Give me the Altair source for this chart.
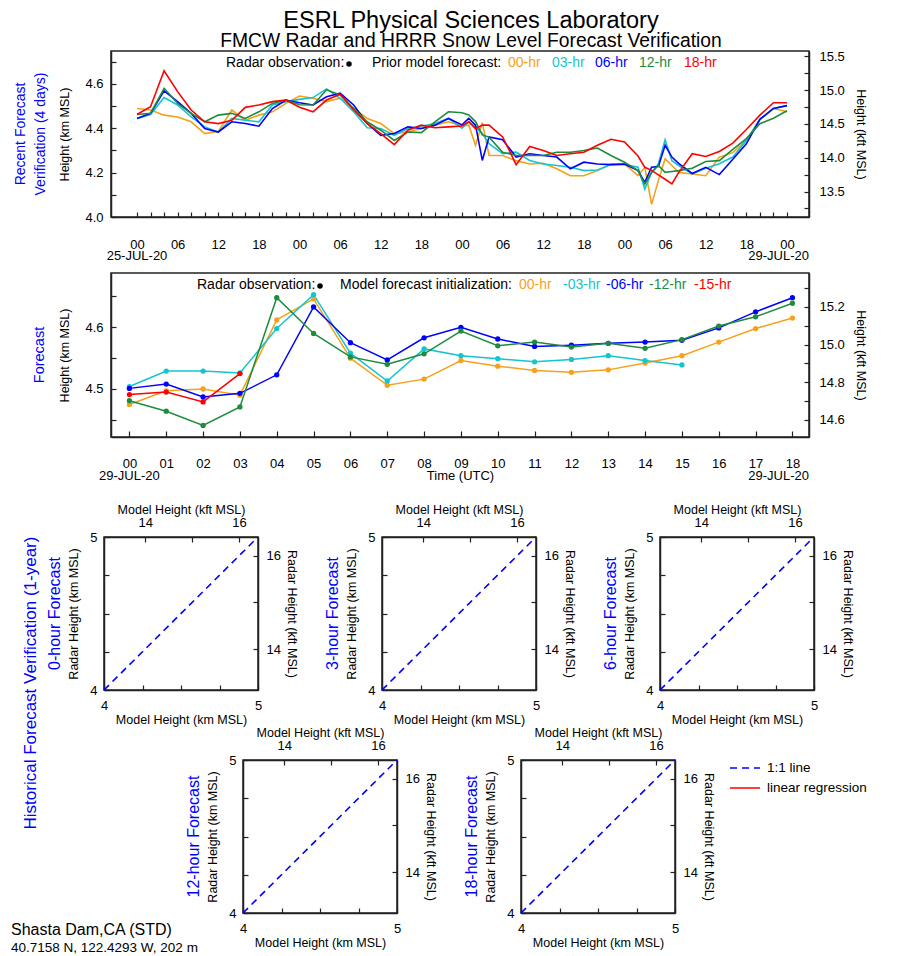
import json
import altair as alt
import pandas as pd

FONT = "Liberation Sans"
KFT_PER_KM = 3.28084
TITLE_BLUE = "#0000ff"
INK = "#222222"

# ---------------- Panel 1: recent forecast verification (4 days) ----------------
TOP_SERIES = ["00-hr", "03-hr", "06-hr", "12-hr", "18-hr"]
SERIES_COLORS = ["#f5a11c", "#15c4cf", "#0000ff", "#1e8b3e", "#ff0000"]
TOP_HOURS = [0, 2, 4, 6, 8, 10, 12, 14, 16, 18, 20, 22, 24, 26, 28, 30, 32, 34, 36, 38, 40, 42, 44, 46, 48,
             49, 50, 51, 52, 54, 56, 58, 60, 62, 64, 66, 68, 70, 72, 74,
             75, 76, 77, 78, 79, 80, 82, 84, 86, 88, 90, 92, 94, 96]
TOP_00 = [4.489, 4.482, 4.459, 4.451, 4.429, 4.376, 4.386, 4.482, 4.436, 4.459, 4.474, 4.512, 4.545, 4.535, 4.520,
          4.535, 4.489, 4.444, 4.421, 4.376, 4.383, 4.399, 4.414, 4.429, 4.410,
          4.414, 4.323, 4.425, 4.277, 4.277, 4.254, 4.239, 4.242, 4.217, 4.186, 4.186, 4.209, 4.239, 4.239, 4.186,
          4.224, 4.057, 4.164, 4.262, 4.232, 4.201, 4.194, 4.186, 4.270, 4.290, 4.345, 4.440, 4.489, 4.474]
TOP_03 = [4.444, 4.462, 4.538, 4.505, 4.451, 4.406, 4.383, 4.444, 4.436, 4.429, 4.505, 4.520, 4.530, 4.538, 4.577,
          4.535, 4.474, 4.402, 4.399, 4.368, 4.399, 4.409, 4.421, 4.444, 4.400,
          4.429, 4.406, 4.376, 4.330, 4.285, 4.292, 4.255, 4.239, 4.232, 4.224, 4.209, 4.212, 4.236, 4.236, 4.224,
          4.126, 4.201, 4.239, 4.348, 4.254, 4.232, 4.194, 4.220, 4.240, 4.270, 4.345, 4.440, 4.489, 4.502]
TOP_06 = [4.444, 4.467, 4.568, 4.520, 4.467, 4.399, 4.383, 4.429, 4.421, 4.409, 4.489, 4.527, 4.515, 4.505, 4.542,
          4.558, 4.505, 4.421, 4.368, 4.376, 4.406, 4.399, 4.414, 4.444, 4.415,
          4.444, 4.414, 4.255, 4.361, 4.348, 4.270, 4.285, 4.277, 4.270, 4.217, 4.247, 4.239, 4.236, 4.239, 4.209,
          4.156, 4.224, 4.227, 4.323, 4.270, 4.242, 4.196, 4.224, 4.191, 4.260, 4.330, 4.440, 4.489, 4.502]
TOP_12 = [4.462, 4.467, 4.580, 4.512, 4.467, 4.429, 4.459, 4.467, 4.444, 4.474, 4.512, 4.527, 4.506, 4.505, 4.573,
          4.550, 4.489, 4.429, 4.391, 4.345, 4.383, 4.380, 4.429, 4.474, 4.470,
          4.460, 4.430, 4.370, 4.360, 4.292, 4.277, 4.277, 4.277, 4.292, 4.292, 4.300, 4.311, 4.277, 4.247, 4.209,
          4.148, 4.201, 4.232, 4.201, 4.205, 4.209, 4.220, 4.250, 4.254, 4.305, 4.353, 4.420, 4.445, 4.479]
TOP_18 = [4.462, 4.497, 4.659, 4.565, 4.482, 4.429, 4.421, 4.436, 4.494, 4.505, 4.520, 4.527, 4.495, 4.474, 4.527,
          4.553, 4.482, 4.421, 4.376, 4.326, 4.391, 4.414, 4.402, 4.406, 4.410,
          4.429, 4.398, 4.414, 4.414, 4.361, 4.236, 4.318, 4.300, 4.277, 4.285, 4.292, 4.323, 4.350, 4.338, 4.275,
          4.224, 4.210, 4.190, 4.170, 4.149, 4.200, 4.285, 4.273, 4.295, 4.333, 4.394, 4.459, 4.515, 4.515]
TOP_TICK_HOURS = list(range(0, 97, 2))
TOP_HOUR_LABELS = ["00", "06", "12", "18"]
TOP_DATES = ["25-JUL-20", "29-JUL-20"]
TOP_KM_TICKS = [4.0, 4.1, 4.2, 4.3, 4.4, 4.5, 4.6, 4.7]
TOP_KM_LABELS = [4.0, 4.2, 4.4, 4.6]
TOP_KFT_TICKS = [13.25, 13.5, 13.75, 14.0, 14.25, 14.5, 14.75, 15.0, 15.25, 15.5]
TOP_KFT_LABELS = [13.5, 14.0, 14.5, 15.0, 15.5]
TOP_XDOM = [-3.84, 99.25]
TOP_YDOM = [4.0, 4.748]
TOP_TITLE = ["Recent Forecast", "Verification (4 days)"]
TOP_LEGEND_HEAD = ["Radar observation:", "Prior model forecast:"]

# ---------------- Panel 2: forecast (model initialisations) ----------------
MID_SERIES = ["00-hr", "-03-hr", "-06-hr", "-12-hr", "-15-hr"]
MID_00 = [4.475, 4.497, 4.500, 4.490, 4.612, 4.646, 4.550, 4.506, 4.516, 4.546, 4.537, 4.530, 4.527, 4.531,
          4.542, 4.554, 4.576, 4.598, 4.615]
MID_03 = [4.504, 4.529, 4.529, 4.526, 4.598, 4.653, 4.558, 4.513, 4.565, 4.554, 4.549, 4.544, 4.548, 4.554,
          4.546, 4.539]
MID_06 = [4.501, 4.508, 4.487, 4.493, 4.523, 4.633, 4.575, 4.547, 4.583, 4.600, 4.581, 4.569, 4.571, 4.574,
          4.576, 4.579, 4.599, 4.625, 4.648]
MID_12 = [4.481, 4.464, 4.441, 4.471, 4.648, 4.590, 4.552, 4.540, 4.557, 4.594, 4.570, 4.576, 4.568, 4.574,
          4.566, 4.580, 4.602, 4.617, 4.639]
MID_15 = [4.491, 4.495, 4.479, 4.525]
MID_HOUR_LABELS = ["00", "01", "02", "03", "04", "05", "06", "07", "08", "09", "10", "11", "12", "13", "14",
                   "15", "16", "17", "18"]
MID_DATE = "29-JUL-20"
MID_KM_TICKS = [4.45, 4.5, 4.55, 4.6, 4.65]
MID_KM_LABELS = [4.5, 4.6]
MID_KFT_TICKS = [14.6, 14.7, 14.8, 14.9, 15.0, 15.1, 15.2, 15.3]
MID_KFT_LABELS = [14.6, 14.8, 15.0, 15.2]
MID_XDOM = [-0.5, 18.45]
MID_YDOM = [4.4222, 4.688]
MID_TITLE = "Forecast"
MID_LEGEND_HEAD = ["Radar observation:", "Model forecast initialization:"]

# ---------------- Panels 3-7: historical verification (1 year) ----------------
SCATTER_TITLES = ["0-hour Forecast", "3-hour Forecast", "6-hour Forecast", "12-hour Forecast", "18-hour Forecast"]
DIAG_KM = [4.0, 5.0]
SC_DOM = [4.0, 5.0]
SC_KM_TICKS = [4.0, 4.25, 4.5, 4.75, 5.0]
SC_KM_LABELS = [4.0, 5.0]
SC_KFT_TICKS = [14, 15, 16]
SC_KFT_LABELS = [14, 16]
LEGEND_KINDS = ["1:1 line", "linear regression"]
HIST_TITLE = "Historical Forecast Verification (1-year)"
SITE = "Shasta Dam,CA (STD)"
SITE_COORDS = "40.7158 N, 122.4293 W, 202 m"
MAIN_TITLE = "ESRL Physical Sciences Laboratory"
SUB_TITLE = "FMCW Radar and HRRR Snow Level Forecast Verification"

# ---------------- layout constants ----------------
W_WIDE, H_TOP, H_MID = 698, 166, 164
SC_W, SC_H = 154, 153
TOP_LEG_X = [115, 238, 261, 397, 441, 484, 528, 573]
MID_LEG_X = [86, 209, 229, 408, 452, 495, 538, 583]
LEG_FS = 14


def tick_in(n=5):
    return {"expr": str(-n)}


def label_expr(labels, fmt):
    return f"indexof({json.dumps(labels)}, datum.value) >= 0 ? format(datum.value, '{fmt}') : ''"


def long_frame(series, arrays, hours_list=None):
    rows = []
    for name, vals in zip(series, arrays):
        hrs = hours_list if hours_list is not None else list(range(len(vals)))
        for h, v in zip(hrs, vals):
            rows.append({"hour": h, "km": v, "series": name})
    return pd.DataFrame(rows)


def text_at(text, color, x, y, size=LEG_FS, align="left", angle=None):
    kw = dict(align=align, baseline="middle", fontSize=size, color=color, font=FONT)
    if angle is not None:
        kw["angle"] = angle
    return alt.Chart(pd.DataFrame({"t": [text]})).mark_text(**kw).encode(
        text="t:N", x=alt.value(x), y=alt.value(y))


def dot_at(x, y):
    return alt.Chart(pd.DataFrame({"a": [0]})).mark_circle(size=30, color="black", opacity=1).encode(
        x=alt.value(x), y=alt.value(y))


def legend_layers(heads, series, xs, y):
    out = [text_at(heads[0], "black", xs[0], y), dot_at(xs[1], y + 1), text_at(heads[1], "black", xs[2], y)]
    for name, col, x in zip(series, SERIES_COLORS, xs[3:]):
        out.append(text_at(name, col, x, y))
    return out


def spacer(w, h, layers=()):
    base = alt.Chart(pd.DataFrame({"a": [0]})).mark_point(opacity=0, size=0).encode(
        x=alt.value(0), y=alt.value(0))
    ch = alt.layer(base, *layers) if layers else base
    return ch.properties(width=w, height=h, view=alt.ViewBackground(stroke="transparent"))


def indep(ch):
    return ch.resolve_scale(color="independent", strokeDash="independent")


def kft_axis_layer(ydom, ticks, labels, fmt, title, pad):
    kdom = [round(ydom[0] * KFT_PER_KM, 4), round(ydom[1] * KFT_PER_KM, 4)]
    return alt.Chart(pd.DataFrame({"kft": kdom})).mark_point(opacity=0, size=0).encode(
        y=alt.Y("kft:Q", scale=alt.Scale(domain=kdom, nice=False, zero=False),
                axis=alt.Axis(orient="right", values=ticks, labelExpr=label_expr(labels, fmt), title=title,
                              tickSize=tick_in(), labelPadding=15, titlePadding=pad, labelFlush=False,
                              labelOverlap=False)))


def date_texts(x_enc, xdom, h, label_left, label_right):
    left = alt.Chart(pd.DataFrame({"hour": [0], "t": [label_left]})).mark_text(
        align="center", baseline="middle", fontSize=13, font=FONT).encode(
        x=x_enc, y=alt.value(h + 39), text="t:N")
    right = alt.Chart(pd.DataFrame({"hour": [xdom[1]], "t": [label_right]})).mark_text(
        align="right", baseline="middle", fontSize=13, font=FONT).encode(
        x=x_enc, y=alt.value(h + 39), text="t:N")
    return [left, right]


# ---------- Panel 1 ----------
top_df = long_frame(TOP_SERIES, [TOP_00, TOP_03, TOP_06, TOP_12, TOP_18], TOP_HOURS)
top_x_expr = f"datum.value % 6 != 0 ? '' : {json.dumps(TOP_HOUR_LABELS)}[(datum.value % 24) / 6]"
top_x = alt.X("hour:Q", scale=alt.Scale(domain=TOP_XDOM, nice=False, zero=False),
              axis=alt.Axis(values=TOP_TICK_HOURS, labelExpr=top_x_expr, title=None, tickSize=tick_in(),
                            labelPadding=26, labelOverlap=False, labelFlush=False))
top_lines = alt.Chart(top_df).mark_line(strokeWidth=1.6, clip=True).encode(
    x=top_x,
    y=alt.Y("km:Q", scale=alt.Scale(domain=TOP_YDOM, nice=False, zero=False),
            axis=alt.Axis(values=TOP_KM_TICKS, labelExpr=label_expr(TOP_KM_LABELS, ".1f"),
                          title="Height (km MSL)", tickSize=tick_in(), labelPadding=13, titlePadding=13,
                          labelFlush=False, labelOverlap=False)),
    color=alt.Color("series:N", scale=alt.Scale(domain=TOP_SERIES, range=SERIES_COLORS), legend=None),
)
top_panel = alt.layer(
    top_lines, kft_axis_layer(TOP_YDOM, TOP_KFT_TICKS, TOP_KFT_LABELS, ".1f", "Height (kft MSL)", 9),
    *date_texts(top_x, TOP_XDOM, H_TOP, TOP_DATES[0], TOP_DATES[1]),
    *legend_layers(TOP_LEGEND_HEAD, TOP_SERIES, TOP_LEG_X, 12)
).resolve_scale(y="independent").properties(
    width=W_WIDE, height=H_TOP,
    title=alt.TitleParams(TOP_TITLE, orient="left", anchor="middle", color=TITLE_BLUE, fontSize=14,
                          font=FONT, fontWeight="normal", offset=11, lineHeight=20))

# ---------- Panel 2 ----------
mid_df = long_frame(MID_SERIES, [MID_00, MID_03, MID_06, MID_12, MID_15])
mid_x_expr = f"{json.dumps(MID_HOUR_LABELS)}[datum.value]"
mid_x = alt.X("hour:Q", scale=alt.Scale(domain=MID_XDOM, nice=False, zero=False),
              axis=alt.Axis(values=list(range(len(MID_HOUR_LABELS))), labelExpr=mid_x_expr, title="Time (UTC)",
                            titleY=38, titleBaseline="middle", titleFontSize=13, tickSize=tick_in(6),
                            labelPadding=26, labelOverlap=False, labelFlush=False))
mid_lines = alt.Chart(mid_df).mark_line(strokeWidth=1.5, point=alt.OverlayMarkDef(filled=True, size=28)).encode(
    x=mid_x,
    y=alt.Y("km:Q", scale=alt.Scale(domain=MID_YDOM, nice=False, zero=False),
            axis=alt.Axis(values=MID_KM_TICKS, labelExpr=label_expr(MID_KM_LABELS, ".1f"),
                          title="Height (km MSL)", tickSize=tick_in(), labelPadding=13, titlePadding=13,
                          labelFlush=False, labelOverlap=False)),
    color=alt.Color("series:N", scale=alt.Scale(domain=MID_SERIES, range=SERIES_COLORS), legend=None),
)
mid_panel = alt.layer(
    mid_lines, kft_axis_layer(MID_YDOM, MID_KFT_TICKS, MID_KFT_LABELS, ".1f", "Height (kft MSL)", 9),
    *date_texts(mid_x, MID_XDOM, H_MID, MID_DATE, MID_DATE),
    *legend_layers(MID_LEGEND_HEAD, MID_SERIES, MID_LEG_X, 12)
).resolve_scale(y="independent").properties(
    width=W_WIDE, height=H_MID,
    title=alt.TitleParams(MID_TITLE, orient="left", anchor="middle", color=TITLE_BLUE, fontSize=14.5,
                          font=FONT, fontWeight="normal", offset=11))


# ---------- scatter panels ----------
def scatter_panel(title, with_legend=False):
    diag = pd.DataFrame({"model": DIAG_KM, "radar": DIAG_KM, "kind": [LEGEND_KINDS[0]] * len(DIAG_KM)})
    x = alt.X("model:Q", scale=alt.Scale(domain=SC_DOM, nice=False, zero=False),
              axis=alt.Axis(values=SC_KM_TICKS, labelExpr=label_expr(SC_KM_LABELS, "d"),
                            title="Model Height (km MSL)", tickSize=tick_in(), labelPadding=14, titlePadding=1,
                            labelFlush=False, labelOverlap=False))
    y = alt.Y("radar:Q", scale=alt.Scale(domain=SC_DOM, nice=False, zero=False),
              axis=alt.Axis(values=SC_KM_TICKS, labelExpr=label_expr(SC_KM_LABELS, "d"),
                            title="Radar Height (km MSL)", tickSize=tick_in(), labelPadding=12, titlePadding=9,
                            labelFlush=False, labelOverlap=False))
    if with_legend:
        leg = dict(title=None, orient="none", legendX=213, legendY=-3, labelFontSize=13.5, labelFont=FONT,
                   symbolType="M-1.5,0L1.5,0", symbolSize=400, symbolStrokeWidth=1.6, rowPadding=2,
                   labelOffset=11, padding=0)
        line = alt.Chart(diag).mark_line(strokeWidth=1.6).encode(
            x=x, y=y,
            color=alt.Color("kind:N", scale=alt.Scale(domain=LEGEND_KINDS, range=["#0000ff", "#ff0000"]),
                            legend=alt.Legend(**leg)),
            strokeDash=alt.StrokeDash("kind:N", scale=alt.Scale(domain=LEGEND_KINDS, range=[[7, 5], [1, 0]]),
                                      legend=alt.Legend(**leg)))
    else:
        line = alt.Chart(diag).mark_line(strokeWidth=1.6, color="#0000ff", strokeDash=[7, 5]).encode(x=x, y=y)
    kdom = [round(SC_DOM[0] * KFT_PER_KM, 4), round(SC_DOM[1] * KFT_PER_KM, 4)]
    hidden = alt.Chart(pd.DataFrame({"mk": kdom, "rk": kdom})).mark_point(opacity=0, size=0).encode(
        x=alt.X("mk:Q", scale=alt.Scale(domain=kdom, nice=False, zero=False),
                axis=alt.Axis(orient="top", values=SC_KFT_TICKS, labelExpr=label_expr(SC_KFT_LABELS, "d"),
                              title="Model Height (kft MSL)", tickSize=tick_in(), labelPadding=13, titlePadding=0,
                              labelFlush=False, labelOverlap=False)),
        y=alt.Y("rk:Q", scale=alt.Scale(domain=kdom, nice=False, zero=False),
                axis=alt.Axis(orient="right", values=SC_KFT_TICKS, labelExpr=label_expr(SC_KFT_LABELS, "d"),
                              title="Radar Height (kft MSL)", tickSize=tick_in(), labelPadding=13,
                              titlePadding=4, labelFlush=False, labelOverlap=False)))
    return alt.layer(line, hidden).resolve_scale(x="independent", y="independent").properties(
        width=SC_W, height=SC_H,
        title=alt.TitleParams(title, orient="left", anchor="middle", color=TITLE_BLUE, fontSize=16,
                              font=FONT, fontWeight="normal", offset=5))


s = [scatter_panel(t, with_legend=(i == 4)) for i, t in enumerate(SCATTER_TITLES)]
row1 = indep(alt.hconcat(s[0], s[1], s[2], spacing=124, bounds="flush"))
row2 = indep(alt.hconcat(spacer(15, 1), s[3], s[4], spacing=124, bounds="flush"))
inner = indep(alt.vconcat(row1, row2, spacing=-2))

side = spacer(1, 1, [
    text_at(HIST_TITLE, TITLE_BLUE, -30, 146, size=17, align="center", angle=270),
    text_at(SITE, "black", -50, 393, size=16),
    text_at(SITE_COORDS, "black", -50, 411, size=13.5),
])
block_c = indep(alt.hconcat(side, inner, spacing=42, bounds="flush"))
row_a = indep(alt.hconcat(spacer(1, 1), top_panel, spacing=49, bounds="flush"))
row_b = indep(alt.hconcat(spacer(1, 1), mid_panel, spacing=49, bounds="flush"))

chart = indep(alt.vconcat(row_a, spacer(1, 6), row_b, spacer(1, 16), block_c, spacing=0)).properties(
    padding={"left": 2, "top": 0, "right": 5, "bottom": 0},
    title=alt.TitleParams(MAIN_TITLE, subtitle=SUB_TITLE, anchor="middle", fontSize=23.5, subtitleFontSize=19.3,
                          font=FONT, subtitleFont=FONT, color="black", subtitleColor="black",
                          fontWeight="normal", subtitlePadding=0, offset=-2, dx=32),
).configure(font=FONT).configure_view(stroke=INK, strokeWidth=1.5).configure_axis(
    domainColor=INK, domainWidth=1.5, tickColor=INK, tickWidth=1.2, labelColor="black", titleColor="black",
    labelFont=FONT, titleFont=FONT, labelFontSize=13, titleFontSize=12.5, titleFontWeight="normal", grid=False,
    labelOverlap=False)

chart.save("out.html", embed_options={"renderer": "svg", "actions": False})
